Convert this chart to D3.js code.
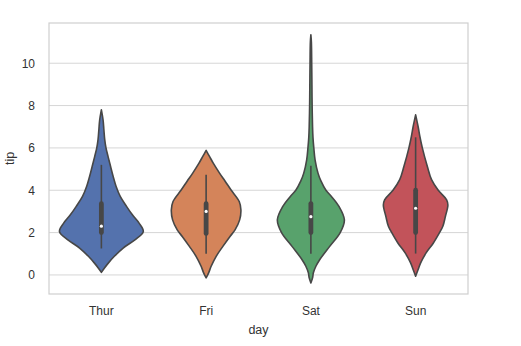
<!DOCTYPE html>
<html>
<head>
<meta charset="utf-8">
<script src="https://cdn.jsdelivr.net/npm/d3@7"></script>
<style>
  html, body { margin: 0; padding: 0; background: #fff; }
  svg { display: block; }
  text { font-family: "Liberation Sans", Arial, sans-serif; fill: #333; }
</style>
</head>
<body>
<svg id="chart" width="521" height="346"></svg>
<script>
// Tips per day: violin outlines (tip value, relative density) and box summaries.
const days = ["Thur", "Fri", "Sat", "Sun"];
const colors = ["#5472ad", "#d4845a", "#58a26c", "#c2535a"];
const yTicks = [0, 2, 4, 6, 8, 10];

const thurTip     = [0.12, 0.32, 0.57, 0.88, 1.27, 1.66, 2.05, 2.45, 2.84, 3.24, 3.71, 4.19, 4.66, 5.12, 5.59, 6.00, 6.39, 6.86, 7.33, 7.80];
const thurDensity = [0.00, 0.07, 0.17, 0.31, 0.52, 0.80, 1.00, 0.90, 0.74, 0.60, 0.45, 0.35, 0.28, 0.22, 0.16, 0.11, 0.08, 0.06, 0.04, 0.00];

const friTip      = [-0.14, 0.10, 0.41, 0.88, 1.35, 1.82, 2.13, 2.60, 3.08, 3.47, 4.00, 4.44, 4.81, 5.28, 5.60, 5.88];
const friDensity  = [0.00, 0.06, 0.12, 0.24, 0.40, 0.57, 0.69, 0.80, 0.83, 0.79, 0.60, 0.45, 0.32, 0.17, 0.08, 0.00];

const satTip      = [-0.38, -0.14, 0.10, 0.41, 0.72, 1.35, 2.00, 2.60, 3.24, 3.71, 4.00, 4.44, 4.81, 5.44, 6.00, 6.50, 7.00, 8.00, 9.00, 10.00, 11.00, 11.34];
const satDensity  = [0.00, 0.04, 0.06, 0.12, 0.21, 0.45, 0.70, 0.80, 0.67, 0.49, 0.36, 0.24, 0.17, 0.10, 0.07, 0.05, 0.04, 0.03, 0.025, 0.02, 0.012, 0.00];

const sunTip      = [-0.06, 0.26, 0.57, 1.04, 1.50, 2.00, 2.30, 2.76, 3.30, 3.55, 4.00, 4.50, 5.12, 6.00, 6.55, 7.00, 7.56];
const sunDensity  = [0.00, 0.06, 0.12, 0.25, 0.42, 0.57, 0.65, 0.71, 0.77, 0.74, 0.54, 0.38, 0.28, 0.16, 0.10, 0.06, 0.00];

// Box summaries: whisker low, q1, median, q3, whisker high
const whiskerLow  = [1.25, 1.00, 1.00, 1.01];
const q1          = [2.00, 1.96, 2.00, 2.00];
const median      = [2.305, 3.00, 2.75, 3.15];
const q3          = [3.3625, 3.365, 3.37, 4.00];
const whiskerHigh = [5.20, 4.73, 5.16, 6.50];

const tipSeries = [thurTip, friTip, satTip, sunTip];
const densitySeries = [thurDensity, friDensity, satDensity, sunDensity];

const svg = d3.select("#chart");
const margin = { left: 49, right: 53, top: 23, bottom: 52 };
const W = 521, H = 346;

const x = d3.scaleBand().domain(days).range([margin.left, W - margin.right]).padding(0);
const y = d3.scaleLinear().domain([-0.9, 11.9]).range([H - margin.bottom, margin.top]);
const w = d3.scaleLinear().domain([0, 1]).range([0, x.bandwidth() * 0.4]);

const outline = "#474747";

// grid
svg.append("g").selectAll("line").data(yTicks).join("line")
  .attr("x1", margin.left).attr("x2", W - margin.right)
  .attr("y1", d => y(d)).attr("y2", d => y(d))
  .attr("stroke", "#d6d6d6").attr("stroke-width", 1);

// y axis labels
const yAxis = svg.append("g").attr("transform", `translate(${margin.left},0)`)
  .call(d3.axisLeft(y).tickValues(yTicks).tickSize(0).tickPadding(14));
yAxis.select(".domain").remove();
yAxis.selectAll("text").attr("font-size", 12).style("fill", "#333")
  .attr("font-family", "Liberation Sans, Arial, sans-serif");

// x axis labels
const xAxis = svg.append("g").attr("transform", `translate(0,${H - margin.bottom})`)
  .call(d3.axisBottom(x).tickSize(0).tickPadding(12));
xAxis.select(".domain").remove();
xAxis.selectAll("text").attr("font-size", 12).style("fill", "#333")
  .attr("font-family", "Liberation Sans, Arial, sans-serif");

// violins
days.forEach((day, i) => {
  const cx = x(day) + x.bandwidth() / 2;
  const pts = tipSeries[i].map((t, j) => ({ t, d: densitySeries[i][j] }));
  const area = d3.area()
    .y(p => y(p.t))
    .x0(p => cx - w(p.d))
    .x1(p => cx + w(p.d))
    .curve(d3.curveCatmullRom.alpha(0.5));
  svg.append("path").attr("d", area(pts))
    .attr("fill", colors[i]).attr("stroke", outline).attr("stroke-width", 1.6)
    .attr("stroke-linejoin", "round");

  // whisker
  svg.append("line").attr("x1", cx).attr("x2", cx)
    .attr("y1", y(whiskerLow[i])).attr("y2", y(whiskerHigh[i]))
    .attr("stroke", outline).attr("stroke-width", 1.6);
  // box
  svg.append("line").attr("x1", cx).attr("x2", cx)
    .attr("y1", y(q1[i])).attr("y2", y(q3[i]))
    .attr("stroke", outline).attr("stroke-width", 4.8).attr("stroke-linecap", "round");
  // median
  svg.append("circle").attr("cx", cx).attr("cy", y(median[i])).attr("r", 1.6)
    .attr("fill", "#fff");
});

// frame
svg.append("rect").attr("x", margin.left).attr("y", margin.top)
  .attr("width", W - margin.left - margin.right).attr("height", H - margin.top - margin.bottom)
  .attr("fill", "none").attr("stroke", "#cfcfcf").attr("stroke-width", 1.2);

// axis titles
svg.append("text").attr("x", x.range()[0] + (x.range()[1] - x.range()[0]) / 2).attr("y", 334)
  .attr("text-anchor", "middle").attr("font-size", 12.5).text("day");
svg.append("text").attr("transform", `translate(14,${(margin.top + H - margin.bottom) / 2}) rotate(-90)`)
  .attr("text-anchor", "middle").attr("font-size", 12.5).text("tip");
</script>
</body>
</html>
